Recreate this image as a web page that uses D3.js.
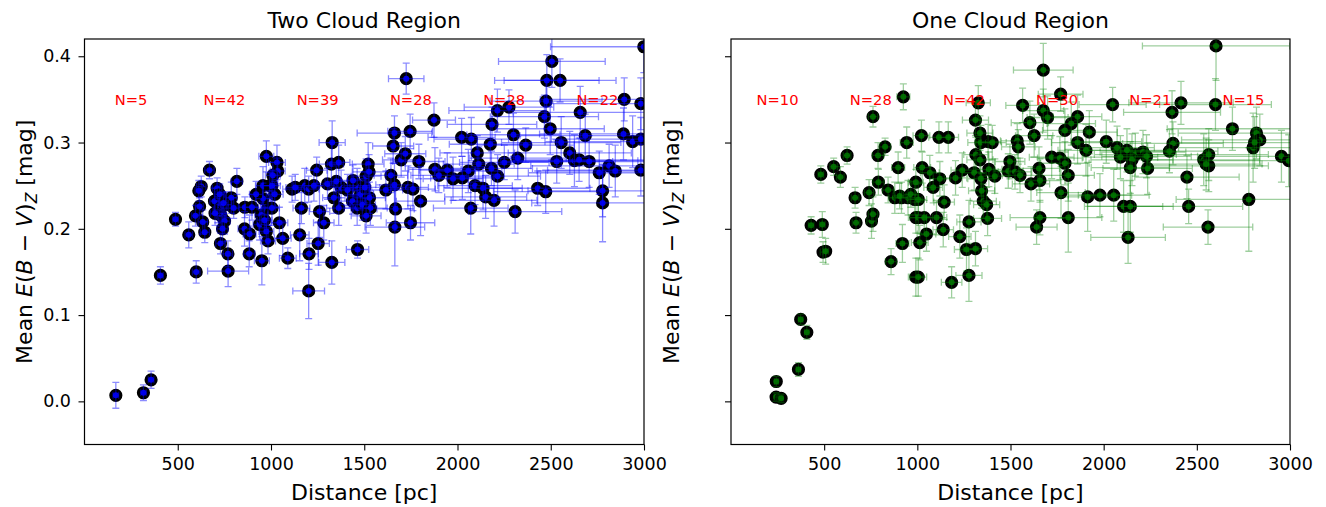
<!DOCTYPE html>
<html><head><meta charset="utf-8">
<script src="https://cdn.jsdelivr.net/npm/d3@7"></script>
<style>body{margin:0;background:#fff}svg{display:block}text{font-family:"DejaVu Sans",sans-serif}</style>
</head><body><svg id="c" width="1326" height="507"></svg>
<script>
// Distance [pc], Mean E(B-V)_Z, distance error, E error
const twoCloudPoints = [
[168,0.007,15,0.015],[316,0.010,15,0.009],[357,0.025,15,0.010],[407,0.146,15,0.010],[488,0.211,15,0.008],
[670,0.268,25,0.010],[817,0.255,30,0.015],[626,0.249,25,0.012],[613,0.244,20,0.012],[711,0.247,25,0.012],
[617,0.226,20,0.010],[595,0.215,20,0.012],[634,0.208,25,0.014],[559,0.193,20,0.015],[645,0.196,25,0.012],
[697,0.232,25,0.015],[715,0.222,25,0.015],[733,0.215,25,0.012],[751,0.209,30,0.015],[760,0.228,30,0.015],
[787,0.236,30,0.018],[729,0.183,25,0.012],[769,0.171,25,0.015],[770,0.151,110,0.018],[599,0.150,20,0.013],
[860,0.225,35,0.012],[898,0.225,35,0.015],[858,0.200,35,0.020],[885,0.194,35,0.022],[883,0.171,30,0.015],
[951,0.163,40,0.028],[957,0.250,40,0.022],[993,0.250,40,0.015],[957,0.235,40,0.018],[948,0.216,35,0.015],
[984,0.224,40,0.020],[939,0.205,35,0.018],[975,0.197,40,0.015],[984,0.186,40,0.015],[975,0.284,40,0.018],
[725,0.240,25,0.012],[745,0.230,25,0.012],[700,0.218,25,0.014],[740,0.200,30,0.015],[800,0.224,30,0.012],
[920,0.240,35,0.015],[965,0.210,40,0.015],
[1032,0.277,45,0.020],[1036,0.267,40,0.015],[1005,0.250,45,0.018],[1005,0.224,40,0.020],[1045,0.207,45,0.018],
[1063,0.189,45,0.020],[1090,0.166,45,0.012],[1154,0.193,50,0.030],[1163,0.224,45,0.018],[1113,0.246,50,0.015],
[1181,0.250,60,0.020],[1202,0.246,55,0.015],[1202,0.128,85,0.032],[1204,0.171,50,0.018],[1245,0.268,55,0.015],
[1253,0.183,60,0.025],[1260,0.220,55,0.030],[1283,0.207,55,0.020],[1303,0.252,55,0.018],[1324,0.275,65,0.025],
[1326,0.161,70,0.025],[1328,0.300,70,0.025],[1337,0.236,60,0.018],[1363,0.277,60,0.020],[1363,0.224,65,0.020],
[1376,0.248,65,0.020],[1437,0.232,70,0.015],[1462,0.250,70,0.020],[1462,0.224,70,0.020],[1464,0.176,60,0.010],
[1010,0.262,40,0.015],[1020,0.240,45,0.015],[1130,0.248,50,0.015],[1230,0.250,55,0.018],[1350,0.255,60,0.018],
[1410,0.245,65,0.018],[1480,0.240,70,0.018],[1490,0.228,70,0.018],[1440,0.256,65,0.018],
[1510,0.261,80,0.020],[1503,0.248,80,0.018],[1521,0.275,85,0.025],[1526,0.266,90,0.020],[1528,0.236,85,0.018],
[1533,0.224,90,0.020],[1510,0.215,80,0.020],[1616,0.245,90,0.022],[1643,0.262,90,0.020],[1655,0.296,110,0.020],
[1662,0.311,200,0.020],[1662,0.251,100,0.025],[1664,0.202,160,0.045],[1668,0.223,100,0.025],[1698,0.280,100,0.020],
[1720,0.287,110,0.020],[1725,0.374,95,0.018],[1734,0.248,110,0.025],[1746,0.313,120,0.020],[1748,0.207,130,0.020],
[1761,0.246,120,0.025],[1793,0.278,140,0.020],[1802,0.232,130,0.040],[1874,0.326,115,0.020],[1879,0.269,140,0.025],
[1945,0.268,150,0.020],[1976,0.258,160,0.025],[1900,0.262,150,0.020],
[2022,0.306,180,0.022],[2074,0.304,200,0.025],[2106,0.288,200,0.020],[2114,0.275,190,0.020],[2058,0.267,180,0.025],
[2026,0.259,170,0.025],[2182,0.270,220,0.020],[2215,0.261,230,0.025],[2176,0.298,220,0.025],[2185,0.321,240,0.020],
[2214,0.337,260,0.025],[2276,0.341,240,0.020],[2300,0.309,250,0.025],[2366,0.297,260,0.020],[2323,0.282,260,0.025],
[2251,0.277,240,0.020],[2094,0.250,200,0.022],[2137,0.247,210,0.025],[2151,0.237,220,0.025],[2196,0.233,230,0.030],
[2071,0.224,200,0.030],[2309,0.220,250,0.025],[2430,0.247,280,0.020],[2473,0.243,280,0.025],[2466,0.330,290,0.025],
[2479,0.372,280,0.030],[2475,0.348,300,0.025],[2497,0.316,290,0.030],
[2506,0.394,286,0.030],[2550,0.372,300,0.025],[2532,0.278,300,0.025],[2556,0.300,320,0.030],[2602,0.288,330,0.025],
[2627,0.279,340,0.030],[2652,0.280,350,0.025],[2658,0.335,360,0.030],[2685,0.308,350,0.025],[2706,0.278,380,0.030],
[2760,0.265,380,0.025],[2778,0.244,400,0.030],[2778,0.230,380,0.045],[2813,0.273,420,0.025],[2846,0.267,420,0.030],
[2890,0.310,450,0.030],[2894,0.350,450,0.025],[2939,0.301,470,0.030],[2983,0.345,480,0.030],[2983,0.304,480,0.025],
[2983,0.268,500,0.030],[2999,0.411,500,0.030]
];
const oneCloudPoints = [
[243,0.023,10,0.006],[242,0.005,10,0.005],[269,0.0035,10,0.005],[362,0.037,12,0.008],[374,0.095,12,0.006],
[407,0.080,12,0.008],[430,0.204,15,0.010],[482,0.263,15,0.010],[490,0.205,15,0.015],[494,0.173,15,0.012],
[508,0.174,15,0.015],[551,0.272,20,0.010],[587,0.260,20,0.012],[623,0.285,20,0.010],[666,0.236,20,0.012],
[671,0.207,20,0.012],[741,0.242,25,0.015],[754,0.209,25,0.020],[762,0.217,25,0.020],[762,0.330,25,0.012],
[789,0.285,30,0.015],[791,0.254,30,0.015],[827,0.295,30,0.010],[843,0.245,30,0.015],[859,0.162,30,0.015],
[879,0.236,30,0.018],[897,0.271,35,0.018],[915,0.236,35,0.018],[920,0.183,35,0.022],[925,0.353,35,0.015],
[943,0.300,35,0.018],[950,0.236,40,0.020],[986,0.234,40,0.018],[992,0.254,40,0.015],[992,0.213,40,0.018],
[992,0.144,40,0.022],[905,0.238,35,0.015],[965,0.240,40,0.015],
[1022,0.308,45,0.018],[1026,0.271,45,0.018],[1013,0.184,45,0.020],[1005,0.234,45,0.018],[1005,0.213,45,0.018],
[1005,0.144,45,0.022],[1067,0.265,50,0.020],[1121,0.258,55,0.020],[1085,0.248,50,0.018],[1116,0.306,55,0.018],
[1166,0.306,55,0.018],[1205,0.259,60,0.020],[1241,0.268,60,0.020],[1305,0.265,65,0.020],[1341,0.258,70,0.020],
[1384,0.269,70,0.020],[1416,0.261,75,0.020],[1488,0.267,80,0.020],[1327,0.346,65,0.020],[1312,0.326,70,0.018],
[1336,0.311,70,0.020],[1341,0.300,70,0.020],[1380,0.301,70,0.020],[1402,0.300,75,0.020],[1314,0.286,65,0.020],
[1336,0.280,70,0.020],[1497,0.278,80,0.020],[1345,0.244,70,0.020],[1354,0.232,70,0.020],[1372,0.228,70,0.020],
[1377,0.212,75,0.020],[1144,0.231,55,0.020],[1037,0.213,45,0.020],[1103,0.213,55,0.020],[1049,0.194,50,0.020],
[1139,0.199,55,0.020],[1277,0.208,65,0.025],[1228,0.191,60,0.025],[1264,0.176,65,0.025],[1312,0.177,65,0.020],
[1277,0.146,70,0.030],[1184,0.138,55,0.018],
[1676,0.384,160,0.031],[1769,0.356,120,0.020],[1565,0.343,90,0.020],[1676,0.337,110,0.025],[1699,0.329,110,0.025],
[1860,0.330,130,0.025],[1604,0.323,100,0.025],[1826,0.322,130,0.025],[1792,0.314,120,0.025],[1923,0.312,150,0.025],
[1627,0.308,100,0.025],[1536,0.302,90,0.020],[1542,0.295,90,0.020],[1860,0.300,140,0.025],[1905,0.291,150,0.030],
[1721,0.283,120,0.025],[1765,0.282,120,0.025],[1792,0.276,130,0.025],[1524,0.266,90,0.020],[1551,0.262,95,0.020],
[1610,0.252,100,0.020],[1653,0.270,110,0.025],[1658,0.256,110,0.025],[1810,0.262,140,0.030],[1771,0.242,130,0.030],
[1914,0.237,160,0.040],[1980,0.239,170,0.025],[1658,0.213,160,0.020],[1640,0.202,110,0.020],[1810,0.213,180,0.040],
[2014,0.301,190,0.025],[2048,0.344,180,0.020],[2415,0.346,280,0.025],[2367,0.335,260,0.025],[2072,0.294,200,0.025],
[2125,0.291,210,0.025],[2170,0.286,220,0.025],[2211,0.289,230,0.025],[2152,0.280,220,0.030],[2143,0.271,210,0.030],
[2236,0.270,240,0.030],[2372,0.299,270,0.025],[2353,0.290,260,0.025],[2447,0.260,280,0.025],[2054,0.239,190,0.030],
[2107,0.226,210,0.030],[2143,0.226,230,0.030],[2456,0.226,290,0.020],[2131,0.190,200,0.030],[2090,0.283,200,0.025],
[2230,0.284,240,0.025],
[2603,0.412,395,0.040],[2600,0.344,300,0.030],[2691,0.316,350,0.025],[2820,0.311,420,0.030],[2838,0.303,420,0.030],
[2802,0.294,400,0.040],[2954,0.284,450,0.030],[2993,0.279,480,0.030],[2537,0.280,300,0.030],[2564,0.286,320,0.030],
[2564,0.273,320,0.030],[2779,0.234,390,0.060],[2560,0.202,240,0.020],[2810,0.300,420,0.030],[2550,0.275,300,0.030]
];
const panelTitles = ["Two Cloud Region", "One Cloud Region"];
const binCenters = [250, 750, 1250, 1750, 2250, 2750];
const twoCloudCounts = [5, 42, 39, 28, 28, 22];
const oneCloudCounts = [10, 28, 42, 30, 21, 15];
const xTickValues = [500, 1000, 1500, 2000, 2500, 3000];
const yTickValues = [0.0, 0.1, 0.2, 0.3, 0.4];

const svg = d3.select("#c");
const yTop = 39, yBottom = 444.5;
const panels = [
  {x0: 84.5, x1: 644, pts: twoCloudPoints, counts: twoCloudCounts, title: panelTitles[0],
   err: "rgba(0,0,255,0.45)", fill: "#0000e0"},
  {x0: 731, x1: 1290, pts: oneCloudPoints, counts: oneCloudCounts, title: panelTitles[1],
   err: "rgba(0,128,0,0.38)", fill: "#006400"}
];
panels.forEach((p, i) => {
  const x = d3.scaleLinear().domain([0, 3000]).range([p.x0, p.x1]);
  const y = d3.scaleLinear().domain([-0.05, 0.42]).range([yBottom, yTop]);
  const g = svg.append("g");
  const clipId = "clip" + i;
  svg.append("clipPath").attr("id", clipId).append("rect")
    .attr("x", p.x0).attr("y", yTop).attr("width", p.x1 - p.x0).attr("height", yBottom - yTop);
  const plot = g.append("g").attr("clip-path", `url(#${clipId})`);
  plot.selectAll("circle").data(p.pts).join("circle")
    .attr("cx", d => x(d[0])).attr("cy", d => y(d[1])).attr("r", 4.8)
    .attr("fill", p.fill).attr("stroke", "#000").attr("stroke-width", 3.6);
  const eb = plot.append("g").attr("stroke", p.err).attr("stroke-width", 1.3).attr("fill", "none");
  p.pts.forEach(d => {
    const cx = x(d[0]), cy = y(d[1]);
    const xl = x(d[0] - d[2]), xr = x(d[0] + d[2]);
    const yt = y(d[1] + d[3]), yb = y(d[1] - d[3]);
    eb.append("path").attr("d",
      `M${xl},${cy}H${xr}M${cx},${yt}V${yb}` +
      `M${xl},${cy-3.5}V${cy+3.5}M${xr},${cy-3.5}V${cy+3.5}` +
      `M${cx-3.5},${yt}H${cx+3.5}M${cx-3.5},${yb}H${cx+3.5}`);
  });
  g.selectAll("text.n").data(binCenters).join("text").attr("class", "n")
    .attr("x", d => x(d)).attr("y", y(0.35)).attr("dy", "0.35em")
    .attr("text-anchor", "middle").attr("fill", "red").style("font-size", "14.7px")
    .text((d, j) => "N=" + p.counts[j]);
  const xa = g.append("g").attr("transform", `translate(0,${yBottom})`)
    .call(d3.axisBottom(x).tickValues(xTickValues).tickSize(6).tickPadding(7.5).tickFormat(d3.format("d")));
  const ya = g.append("g").attr("transform", `translate(${p.x0},0)`)
    .call(d3.axisLeft(y).tickValues(yTickValues).tickSize(6).tickPadding(7.5).tickFormat(i === 0 ? d3.format(".1f") : () => ""));
  [xa, ya].forEach(a => {
    a.select(".domain").remove();
    a.selectAll("line").attr("stroke", "#000").attr("stroke-width", 1.1);
    a.selectAll("text").style("font-size", "17.5px").attr("fill", "#000").style("font-family", "DejaVu Sans");
  });
  g.append("rect").attr("x", p.x0).attr("y", yTop).attr("width", p.x1 - p.x0).attr("height", yBottom - yTop)
    .attr("fill", "none").attr("stroke", "#000").attr("stroke-width", 1.2);
  g.append("text").attr("x", (p.x0 + p.x1) / 2).attr("y", 27.5).attr("text-anchor", "middle")
    .style("font-size", "22px").text(p.title);
  g.append("text").attr("x", (p.x0 + p.x1) / 2).attr("y", 500).attr("text-anchor", "middle")
    .style("font-size", "22px").text("Distance [pc]");
  const yl = g.append("text").attr("transform", `translate(${p.x0 - 52.5},${(yTop + yBottom) / 2}) rotate(-90)`)
    .attr("text-anchor", "middle").style("font-size", "22px");
  yl.append("tspan").text("Mean ");
  yl.append("tspan").style("font-style", "italic").text("E");
  yl.append("tspan").text("(");
  yl.append("tspan").style("font-style", "italic").text("B");
  yl.append("tspan").text(" \u2212 ");
  yl.append("tspan").style("font-style", "italic").text("V");
  yl.append("tspan").text(")");
  yl.append("tspan").style("font-style", "italic").style("font-size", "15.5px").attr("dy", 5).text("Z");
  yl.append("tspan").attr("dy", -5).text(" [mag]");
});
</script></body></html>
